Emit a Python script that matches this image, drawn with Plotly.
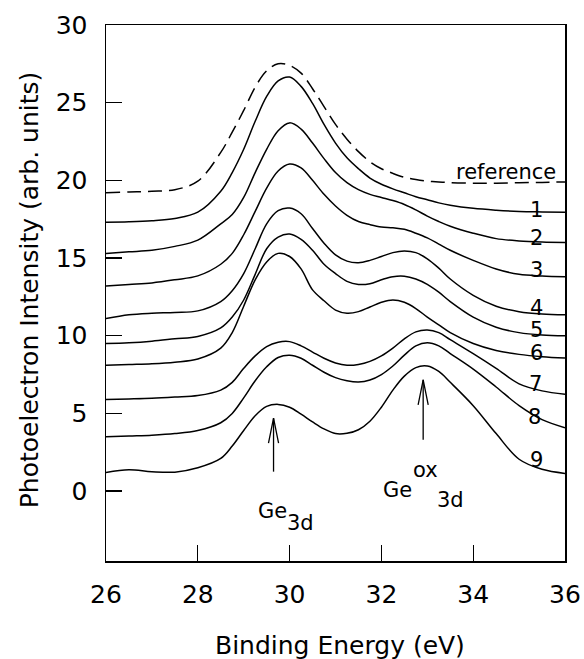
import plotly.graph_objects as go

# Binding energy grid (eV)
energy = [26, 26.5, 27, 27.5, 28, 28.5, 28.75, 29, 29.25, 29.5, 29.75, 30, 30.25, 30.5,
          30.75, 31, 31.25, 31.5, 31.75, 32, 32.25, 32.5, 32.75, 33, 33.25, 33.5, 34,
          34.5, 35, 35.5, 36]

reference = [19.2, 19.25, 19.3, 19.4, 19.95, 21.8, 23.1, 24.5, 26.0, 27.05, 27.5, 27.4, 26.9, 25.9,
             24.75, 23.6, 22.65, 21.85, 21.2, 20.75, 20.45, 20.2, 20.05, 19.95, 19.9, 19.85, 19.82,
             19.82, 19.85, 19.87, 19.9]
spec1 = [17.3, 17.33, 17.4, 17.55, 17.95, 19.3, 20.5, 22.0, 23.8, 25.4, 26.4, 26.65, 26.05, 24.95,
         23.6, 22.4, 21.45, 20.75, 20.15, 19.75, 19.45, 19.2, 18.95, 18.75, 18.55, 18.4, 18.2,
         18.08, 18.0, 17.97, 17.95]
spec2 = [15.3, 15.4, 15.5, 15.75, 16.15, 17.2, 17.8, 18.9, 20.5, 22.0, 23.2, 23.7, 23.3, 22.4,
         21.4, 20.5, 19.85, 19.4, 19.1, 18.9, 18.7, 18.45, 18.1, 17.7, 17.35, 17.05, 16.6,
         16.25, 16.1, 16.03, 16.0]
spec3 = [13.2, 13.3, 13.4, 13.6, 13.85, 14.6, 15.3, 16.5, 18.0, 19.5, 20.6, 21.05, 20.8, 20.0,
         19.1, 18.35, 17.75, 17.35, 17.15, 17.0, 16.95, 16.85, 16.6, 16.3, 15.9, 15.5, 14.85,
         14.3, 13.95, 13.85, 13.8]
spec4 = [11.1, 11.35, 11.45, 11.5, 11.6, 12.2, 12.9, 14.0, 15.6, 17.2, 18.05, 18.22, 17.85, 16.9,
         15.95, 15.2, 14.8, 14.7, 14.85, 15.1, 15.35, 15.45, 15.35, 14.95, 14.35, 13.65, 12.6,
         11.9, 11.55, 11.4, 11.35]
spec5 = [9.5, 9.55, 9.65, 9.8, 9.95, 10.5, 11.2, 12.3, 13.95, 15.6, 16.35, 16.55, 16.2, 15.5,
         14.6, 14.0, 13.5, 13.3, 13.35, 13.6, 13.8, 13.83, 13.65, 13.3, 12.8, 12.2, 11.2,
         10.55, 10.2, 10.05, 10.0]
spec6 = [8.1, 8.15, 8.2, 8.3, 8.5, 9.2, 10.2, 11.9, 13.6, 14.75, 15.3, 15.1, 14.3, 12.95,
         12.25, 11.65, 11.45, 11.55, 11.85, 12.15, 12.3, 12.15, 11.75, 11.2, 10.7, 10.2, 9.5,
         9.05, 8.8, 8.65, 8.56]
spec7 = [5.9, 5.93, 5.97, 6.05, 6.15, 6.5, 7.0, 7.9, 8.7, 9.3, 9.58, 9.62, 9.35, 8.95,
         8.55, 8.25, 8.1, 8.15, 8.35, 8.7, 9.2, 9.8, 10.25, 10.37, 10.2, 9.75, 8.85,
         7.9, 6.9, 6.45, 6.24]
spec8 = [3.5, 3.55, 3.6, 3.7, 3.9, 4.4, 5.0, 6.0, 7.1, 8.0, 8.6, 8.75, 8.55, 8.1,
         7.65, 7.3, 7.1, 7.02, 7.15, 7.5, 8.05, 8.75, 9.35, 9.55, 9.35, 8.85, 7.85,
         6.7, 5.5, 4.6, 4.08]
spec9 = [1.2, 1.38, 1.25, 1.22, 1.5, 2.1, 2.9, 3.9, 4.85, 5.45, 5.58, 5.4, 4.95, 4.45,
         4.0, 3.7, 3.72, 3.95, 4.5, 5.4, 6.5, 7.4, 7.95, 8.05, 7.7, 7.0, 5.5,
         3.7, 2.05, 1.4, 1.14]

curve_names = ["reference", "1", "2", "3", "4", "5", "6", "7", "8", "9"]
curves = [reference, spec1, spec2, spec3, spec4, spec5, spec6, spec7, spec8, spec9]

# curve label positions
label_x = [34.71, 35.38, 35.38, 35.38, 35.38, 35.38, 35.38, 35.36, 35.34, 35.38]
label_y = [20.55, 18.1, 16.3, 14.25, 11.8, 10.4, 8.9, 6.9, 4.75, 2.0]

# peak arrows: x, tip y, tail y, wing-end y
arrow_x = [29.65, 32.91]
arrow_tip = [4.69, 7.16]
arrow_tail = [1.25, 3.3]
arrow_wing = [3.08, 5.55]

x_title = "Binding Energy (eV)"
y_title = "Photoelectron Intensity (arb. units)"

FONT = "DejaVu Sans, Liberation Sans, Arial, sans-serif"

fig = go.Figure()
for name, ys in zip(curve_names, curves):
    fig.add_trace(go.Scatter(
        x=energy, y=ys, mode="lines", name=name,
        line=dict(color="black", width=1.5, shape="spline", smoothing=1.0,
                  dash="14px,7px" if name == "reference" else "solid"),
        showlegend=False, hoverinfo="skip"))

annotations = []
for name, lx, ly in zip(curve_names, label_x, label_y):
    annotations.append(dict(x=lx, y=ly, xref="x", yref="y", text=name, showarrow=False,
                            font=dict(family=FONT, size=21, color="black"),
                            xanchor="center", yanchor="middle"))

# Ge 3d labels
annotations += [
    dict(x=29.63, y=-1.25, text="Ge", xref="x", yref="y", showarrow=False,
         font=dict(family=FONT, size=21, color="black")),
    dict(x=30.24, y=-2.05, text="3d", xref="x", yref="y", showarrow=False,
         font=dict(family=FONT, size=21, color="black")),
    dict(x=32.35, y=0.1, text="Ge", xref="x", yref="y", showarrow=False,
         font=dict(family=FONT, size=21, color="black")),
    dict(x=32.96, y=1.35, text="ox", xref="x", yref="y", showarrow=False,
         font=dict(family=FONT, size=21, color="black")),
    dict(x=33.51, y=-0.55, text="3d", xref="x", yref="y", showarrow=False,
         font=dict(family=FONT, size=21, color="black")),
]

# axis titles
annotations += [
    dict(x=0.51, y=-0.158, xref="paper", yref="paper", text=x_title, showarrow=False,
         xanchor="center", yanchor="middle",
         font=dict(family=FONT, size=25, color="black")),
    dict(x=-0.168, y=0.505, xref="paper", yref="paper", text=y_title, showarrow=False,
         xanchor="center", yanchor="middle", textangle=-90,
         font=dict(family=FONT, size=25, color="black")),
]

shapes = []
for ax, tip, tail, wing in zip(arrow_x, arrow_tip, arrow_tail, arrow_wing):
    shapes.append(dict(type="line", xref="x", yref="y", x0=ax, x1=ax, y0=tail, y1=tip,
                       line=dict(color="black", width=1.3)))
    shapes.append(dict(type="path", xref="x", yref="y",
                       path=f"M {ax-0.11},{wing} L {ax},{tip} L {ax+0.11},{wing}",
                       line=dict(color="black", width=1.3)))

fig.update_layout(
    width=584, height=659,
    margin=dict(l=106, r=19, t=25, b=98, autoexpand=False),
    paper_bgcolor="white", plot_bgcolor="white",
    font=dict(family=FONT, color="black"),
    annotations=annotations, shapes=shapes,
    xaxis=dict(range=[26, 36], tickvals=[26, 28, 30, 32, 34, 36],
               ticks="inside", ticklen=16, tickwidth=1.3, tickcolor="black",
               showline=True, linecolor="black", linewidth=1.5, mirror=True,
               showgrid=False, zeroline=False, automargin=False,
               tickfont=dict(family=FONT, size=25, color="black"),
               ticklabelstandoff=10),
    yaxis=dict(range=[-4.5, 30], tickvals=[0, 5, 10, 15, 20, 25, 30],
               ticks="inside", ticklen=16, tickwidth=1.3, tickcolor="black",
               showline=True, linecolor="black", linewidth=1.5, mirror=True,
               showgrid=False, zeroline=False, automargin=False,
               tickfont=dict(family=FONT, size=25, color="black"),
               ticklabelstandoff=12),
)

fig.write_html(
    "out.html",
    config={"displayModeBar": False, "staticPlot": True},
    post_script="document.body.style.margin='0px';document.body.style.overflow='hidden';",
)
